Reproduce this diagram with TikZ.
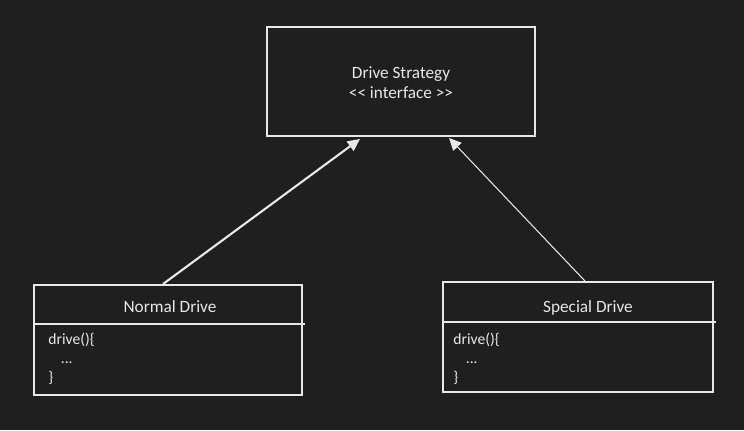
\documentclass[tikz,border=0pt]{standalone}
\usepackage{fontspec}
\setmainfont{Carlito}
\usetikzlibrary{arrows.meta,positioning,calc}

\definecolor{bgdark}{HTML}{1F1F1F}
\definecolor{linegray}{HTML}{E8E8E8}

\begin{document}
\begin{tikzpicture}[x=0.02cm,y=-0.02cm,
    class box/.style={draw=linegray,line width=1.1pt,minimum width=5.36cm,minimum height=2.18cm,inner sep=0pt},
    title text/.style={text=linegray,font=\fontsize{9.8}{11.4}\selectfont,align=center},
    body text/.style={text=linegray,font=\fontsize{8.9}{10.8}\selectfont,align=left,anchor=north west,inner sep=0pt},
    realize/.style={draw=linegray,-{Triangle[length=7pt,width=6.5pt]}}]
    \fill[bgdark] (0,0) rectangle (744,430);
    \useasboundingbox (0,0) rectangle (744,430);

    % interface
    \node[class box] (strategy) at (401,81.5) {};
    \node[title text] (strategyname) at (401,83) {Drive Strategy\\<\kern0pt< interface >\kern0pt>};

    % concrete strategies
    \node[class box,minimum height=2.2cm] (normal) at (168,340) {};
    \node[title text] (normalname) at (170,307) {Normal Drive};
    \node[body text] (normalbody) at (48,333) {drive()\{\\\hspace{0.8em}...\\\}};

    \node[class box,minimum width=5.4cm,minimum height=2.2cm] (special) at (578,337) {};
    \node[title text] (specialname) at (588,308) {Special Drive};
    \node[body text] (specialbody) at (453,333) {drive()\{\\\hspace{0.8em}...\\\}};

    \draw[linegray,line width=0.8pt] (normal.west |- 0,324) -- (305,324);
    \draw[linegray,line width=0.8pt] (special.west |- 0,322) -- (716,322);

    \draw[realize,line width=1.2pt] ($(normal.north)+(-5,0)$) -- ($(strategy.south)+(-41,2)$);
    \draw[realize,line width=0.6pt] ($(special.north)+(7,0)$) -- ($(strategy.south)+(48,1)$);
\end{tikzpicture}
\end{document}
